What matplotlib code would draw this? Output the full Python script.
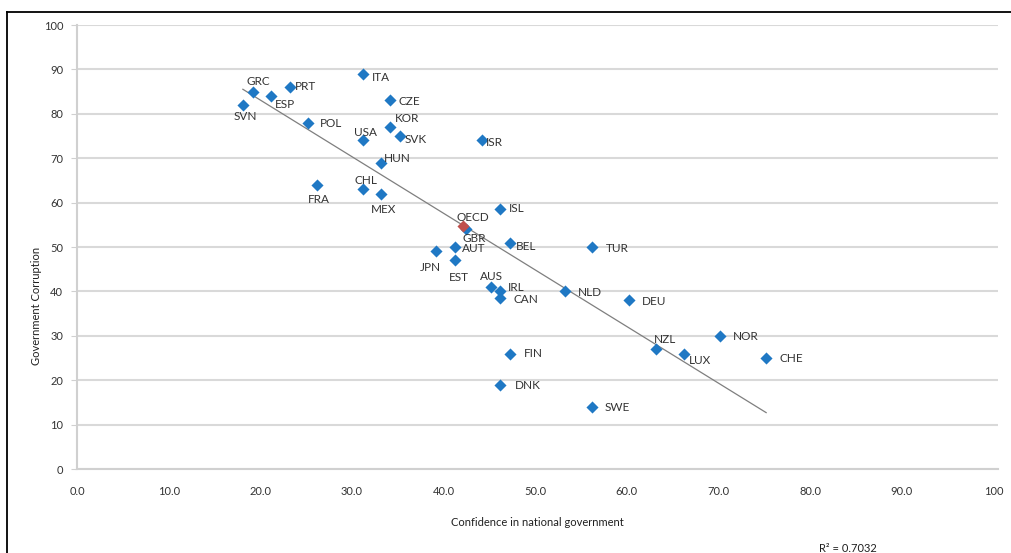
import numpy as np
import matplotlib.pyplot as plt
from matplotlib.lines import Line2D

plt.rcParams['font.family'] = ['Lato', 'DejaVu Sans']

countries = ['SVN', 'GRC', 'ESP', 'PRT', 'POL', 'FRA', 'ITA', 'USA', 'CHL', 'MEX',
             'HUN', 'CZE', 'KOR', 'SVK', 'ISR', 'ISL', 'GBR', 'BEL', 'AUT', 'JPN',
             'EST', 'AUS', 'IRL', 'CAN', 'TUR', 'NLD', 'DEU', 'FIN', 'DNK', 'SWE',
             'NZL', 'LUX', 'NOR', 'CHE']
confidence = [18.1, 19.2, 21.2, 23.2, 25.2, 26.2, 31.2, 31.2, 31.2, 33.2,
              33.2, 34.2, 34.2, 35.2, 44.2, 46.2, 42.4, 47.2, 41.2, 39.2,
              41.2, 45.2, 46.2, 46.2, 56.2, 53.2, 60.2, 47.2, 46.2, 56.2,
              63.2, 66.2, 70.2, 75.2]
corruption = [82, 85, 84, 86, 78, 64, 89, 74, 63, 62,
              69, 83, 77, 75, 74, 58.5, 54, 51, 50, 49,
              47, 41, 40, 38.5, 50, 40, 38, 26, 19, 14,
              27, 26, 30, 25]
oecd_confidence = 42.1
oecd_corruption = 54.7
r_squared = 0.7032

# label offsets in pixels (dx, dy) and horizontal alignment
offsets = {
    'SVN': (2, -12, 'center'), 'GRC': (5, 10, 'center'), 'ESP': (4, -8, 'left'),
    'PRT': (5, 1, 'left'), 'POL': (12, -1, 'left'), 'FRA': (2, -15, 'center'),
    'ITA': (9, -4, 'left'), 'USA': (3, 8, 'center'), 'CHL': (3, 9, 'center'),
    'MEX': (2, -16, 'center'), 'HUN': (3, 4, 'left'), 'CZE': (8, -1, 'left'),
    'KOR': (4, 9, 'left'), 'SVK': (5, -4, 'left'), 'ISR': (4, -2, 'left'),
    'ISL': (8, 1, 'left'), 'GBR': (9, -9, 'center'), 'BEL': (6, -4, 'left'),
    'AUT': (7, -2, 'left'), 'JPN': (-6, -16, 'center'), 'EST': (4, -17, 'center'),
    'AUS': (0, 10, 'center'), 'IRL': (7, 4, 'left'), 'CAN': (13, -1, 'left'),
    'TUR': (14, -1, 'left'), 'NLD': (13, -1, 'left'), 'DEU': (13, -1, 'left'),
    'FIN': (14, 0, 'left'), 'DNK': (14, -1, 'left'), 'SWE': (13, -1, 'left'),
    'NZL': (9, 10, 'center'), 'LUX': (5, -7, 'left'), 'NOR': (13, -1, 'left'),
    'CHE': (13, 0, 'left'),
}

blue = '#1f78c4'
red = '#c0504d'
text_col = '#333333'

fig = plt.figure(figsize=(10.11, 5.53), dpi=100)
ax = fig.add_axes([77 / 1011, 84 / 553, 921 / 1011, 444 / 553])

x = np.array(confidence)
y = np.array(corruption)

# linear trend over the countries
slope, intercept = np.polyfit(x, y, 1)
xs = np.array([x.min(), x.max()])
ax.plot(xs, slope * xs + intercept, color='#7f7f7f', lw=0.9, zorder=2)

ax.scatter(x, y, marker='D', s=38, color=blue, zorder=3, linewidths=0)
ax.scatter([oecd_confidence], [oecd_corruption], marker='D', s=38, color=red,
           zorder=4, linewidths=0)

for name, cx, cy in zip(countries, confidence, corruption):
    dx, dy, ha = offsets[name]
    ax.annotate(name, (cx, cy), xytext=(dx, dy), textcoords='offset pixels',
                ha=ha, va='center', fontsize=8.5, color=text_col, zorder=5)
ax.annotate('OECD', (oecd_confidence, oecd_corruption), xytext=(10, 9),
            textcoords='offset pixels', ha='center', va='center',
            fontsize=8.5, color=text_col, zorder=5)

ax.set_xlim(0, 100.5)
ax.set_ylim(0, 100)
ax.set_xticks(np.arange(0, 101, 10))
ax.set_xticklabels([f'{v:.1f}' for v in range(0, 91, 10)] + ['100'])
ax.set_yticks(np.arange(0, 101, 10))
ax.grid(axis='y', color='#d9d9d9', lw=1.5)
ax.set_axisbelow(True)

for side in ['top', 'right']:
    ax.spines[side].set_visible(False)
for side in ['left', 'bottom']:
    ax.spines[side].set_color('#d0d0d0')
    ax.spines[side].set_linewidth(1.5)
ax.tick_params(axis='y', length=4, color='#d0d0d0', labelsize=8,
               labelcolor=text_col, pad=6)
ax.tick_params(axis='x', length=0, labelsize=8, labelcolor=text_col, pad=12)

ax.set_xlabel('Confidence in national government', fontsize=8,
              color='#202020', labelpad=15)
fig.text(36 / 1011, 247 / 553, 'Government Corruption', rotation=90,
         ha='center', va='center', fontsize=8, color='#202020')

fig.text(848 / 1011, 1 - 548 / 553, f'R² = {r_squared:.4f}', ha='center',
         va='center', fontsize=8, color='#202020')

# outer frame (left and top edges)
fig.add_artist(Line2D([7 / 1011, 7 / 1011], [0, 1 - 12 / 553],
                      transform=fig.transFigure, color='black', lw=1.3))
fig.add_artist(Line2D([7 / 1011, 1], [1 - 12 / 553, 1 - 12 / 553],
                      transform=fig.transFigure, color='black', lw=1.3))

fig.savefig('out.png', dpi=100)
